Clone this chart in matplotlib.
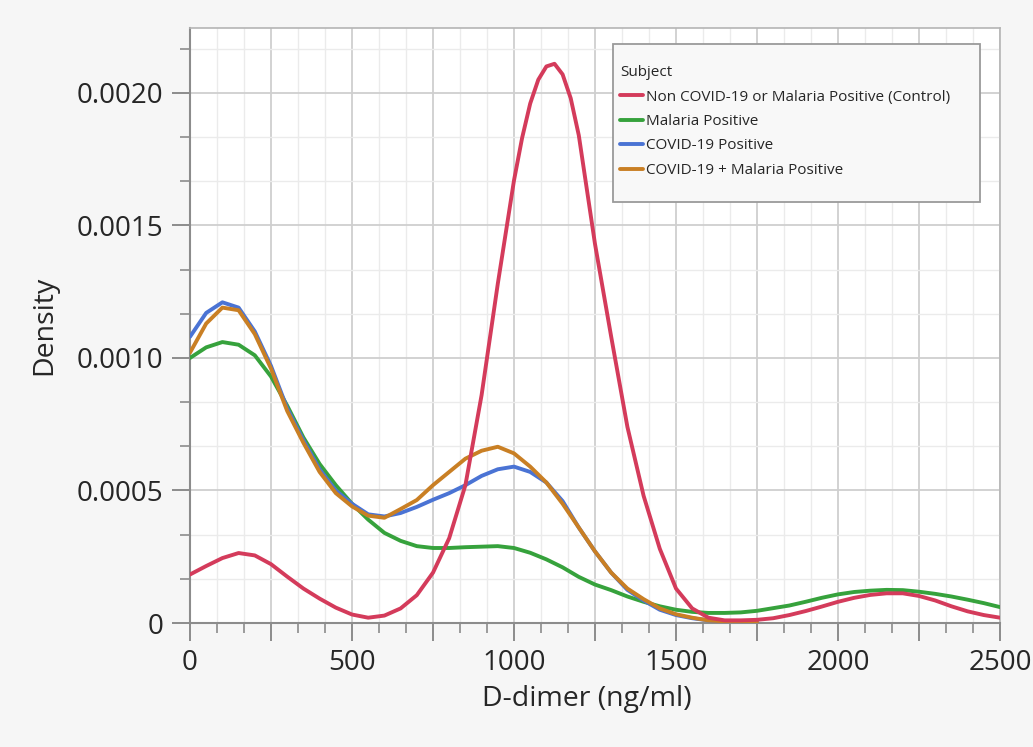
import matplotlib
matplotlib.use("Agg")
import matplotlib.pyplot as plt
from matplotlib.patches import Rectangle
from matplotlib.ticker import MultipleLocator, FuncFormatter

# D-dimer (ng/ml) and density values
control_x = [0, 50, 100, 150, 200, 250, 300, 350, 400, 450, 500, 550, 600, 650, 700, 750,
             800, 850, 900, 950, 1000, 1025, 1050, 1075, 1100, 1125, 1150, 1175, 1200, 1250,
             1300, 1350, 1400, 1450, 1500, 1550, 1600, 1650, 1700, 1750, 1800, 1850, 1900,
             1950, 2000, 2050, 2100, 2150, 2200, 2250, 2300, 2350, 2400, 2450, 2500]
control = [0.000183, 0.000215, 0.000245, 0.000264, 0.000255, 0.000222, 0.000175, 0.000130,
           0.000092, 0.000058, 0.000032, 0.000020, 0.000028, 0.000055, 0.000105, 0.000190,
           0.00032, 0.00052, 0.00086, 0.00128, 0.00167, 0.00183, 0.00196, 0.00205, 0.00210,
           0.00211, 0.00207, 0.00198, 0.00184, 0.00143, 0.00108, 0.00074, 0.00048, 0.00028,
           0.00013, 0.000055, 0.00002, 0.00001, 0.00001, 0.000012, 0.000018, 0.00003,
           0.000045, 0.000062, 0.00008, 0.000095, 0.000106, 0.000112, 0.000112, 0.000102,
           0.000085, 0.000063, 0.000044, 0.00003, 0.00002]

malaria_x = list(range(0, 2501, 50))
malaria = [0.00100, 0.00104, 0.00106, 0.00105, 0.00101, 0.00093, 0.00082, 0.00070,
           0.00060, 0.00052, 0.00045, 0.00039, 0.00034, 0.00031, 0.00029, 0.000283,
           0.000283, 0.000286, 0.000288, 0.00029, 0.000283, 0.000265, 0.00024, 0.00021,
           0.000174, 0.000145, 0.000124, 0.0001, 0.00008, 0.000063, 0.00005, 0.000042,
           0.000038, 0.000038, 0.00004, 0.000046, 0.000056, 0.000066, 0.00008, 0.000095,
           0.000108, 0.000117, 0.000122, 0.000125, 0.000124, 0.000118, 0.00011, 0.0001,
           0.000088, 0.000075, 0.00006]

covid_x = list(range(0, 1751, 50))
covid = [0.00108, 0.00117, 0.00121, 0.00119, 0.00110, 0.00097, 0.00081, 0.00069,
         0.00058, 0.00050, 0.00045, 0.00041, 0.000402, 0.000415, 0.000438, 0.000465,
         0.00049, 0.00052, 0.000555, 0.00058, 0.00059, 0.00057, 0.00053, 0.00046,
         0.00036, 0.00027, 0.00019, 0.000125, 0.000085, 0.00005, 0.00003, 0.000018,
         0.00001, 0.000006, 0.000004, 0.000003]

covid_malaria_x = list(range(0, 1751, 50))
covid_malaria = [0.00102, 0.00113, 0.00119, 0.00118, 0.00109, 0.00096, 0.00080, 0.00068,
                 0.00057, 0.00049, 0.00044, 0.000405, 0.000397, 0.00043, 0.000464, 0.00052,
                 0.00057, 0.00062, 0.00065, 0.000665, 0.00064, 0.00059, 0.00053, 0.00045,
                 0.00036, 0.00027, 0.00019, 0.00013, 0.00009, 0.000055, 0.000033, 0.00002,
                 0.00001, 0.000006, 0.000004, 0.000003]

labels = ["Non COVID-19 or Malaria Positive (Control)", "Malaria Positive",
          "COVID-19 Positive", "COVID-19 + Malaria Positive"]
colors = ["#d43b5b", "#36a23c", "#4a73d4", "#c97f24"]

plt.rcParams["font.family"] = ["Open Sans", "DejaVu Sans"]

fig = plt.figure(figsize=(10.33, 7.47), dpi=100, facecolor="#f6f6f6")
ax = fig.add_axes([190 / 1033, 1 - 623 / 747, 810 / 1033, 595 / 747])
ax.set_facecolor("white")

xs = [control_x, malaria_x, covid_x, covid_malaria_x]
ys = [control, malaria, covid, covid_malaria]
lines = {}
for i in [1, 2, 3, 0]:  # control drawn on top
    ln, = ax.plot(xs[i], ys[i], color=colors[i], lw=2.8, label=labels[i],
                  solid_joinstyle="round", solid_capstyle="round", zorder=3 + (i == 0))
    lines[i] = ln

ax.set_xlim(0, 2500)
ax.set_ylim(0, 0.002245)

ax.xaxis.set_major_locator(MultipleLocator(250))
ax.xaxis.set_minor_locator(MultipleLocator(250 / 3))
ax.yaxis.set_major_locator(MultipleLocator(0.0005))
ax.yaxis.set_minor_locator(MultipleLocator(0.0005 / 3))
ax.xaxis.set_major_formatter(FuncFormatter(lambda v, p: f"{v:.0f}" if round(v) % 500 == 0 else ""))
ax.yaxis.set_major_formatter(FuncFormatter(lambda v, p: "0" if abs(v) < 1e-9 else f"{v:.4f}"))

ax.grid(which="major", color="#cfcfcf", lw=1.3, zorder=0)
ax.grid(which="minor", color="#ebebeb", lw=1.0, zorder=0)
ax.set_axisbelow(True)

ax.tick_params(which="major", length=13, width=1.4, color="#8c8c8c", labelsize=20,
               labelcolor="#262626", pad=6)
ax.tick_params(which="minor", length=7, width=1.2, color="#8c8c8c")

for side in ["left", "bottom"]:
    ax.spines[side].set_color("#8c8c8c")
    ax.spines[side].set_linewidth(1.5)
for side in ["top", "right"]:
    ax.spines[side].set_color("#b5b5b5")
    ax.spines[side].set_linewidth(1.2)

ax.set_xlabel("D-dimer (ng/ml)", fontsize=20.5, color="#262626")
ax.set_ylabel("Density", fontsize=20.5, color="#262626")
ax.xaxis.set_label_coords((587 - 190) / 810, -0.105)
ax.yaxis.set_label_coords(-0.163, 0.5)

# legend box drawn separately so the padding matches the reference
fig.patches.append(Rectangle((613 / 1033, 1 - 202 / 747), 367 / 1033, 158 / 747,
                             transform=fig.transFigure, facecolor="#f8f8f8",
                             edgecolor="#9a9a9a", lw=1.3, zorder=5))
handles = [lines[i] for i in range(4)]
leg = fig.legend(handles, labels, title="Subject", loc="upper left",
                 bbox_to_anchor=(617 / 1033, 1 - 62 / 747),
                 bbox_transform=fig.transFigure, alignment="left",
                 fontsize=11, title_fontsize=11, frameon=False,
                 handlelength=1.5, handletextpad=0.2, labelspacing=0.62, borderpad=0.2,
                 borderaxespad=0)
leg.set_zorder(6)
for t in leg.get_texts():
    t.set_color("#262626")
leg.get_title().set_color("#262626")

fig.savefig("out.png", dpi=100, facecolor=fig.get_facecolor())
